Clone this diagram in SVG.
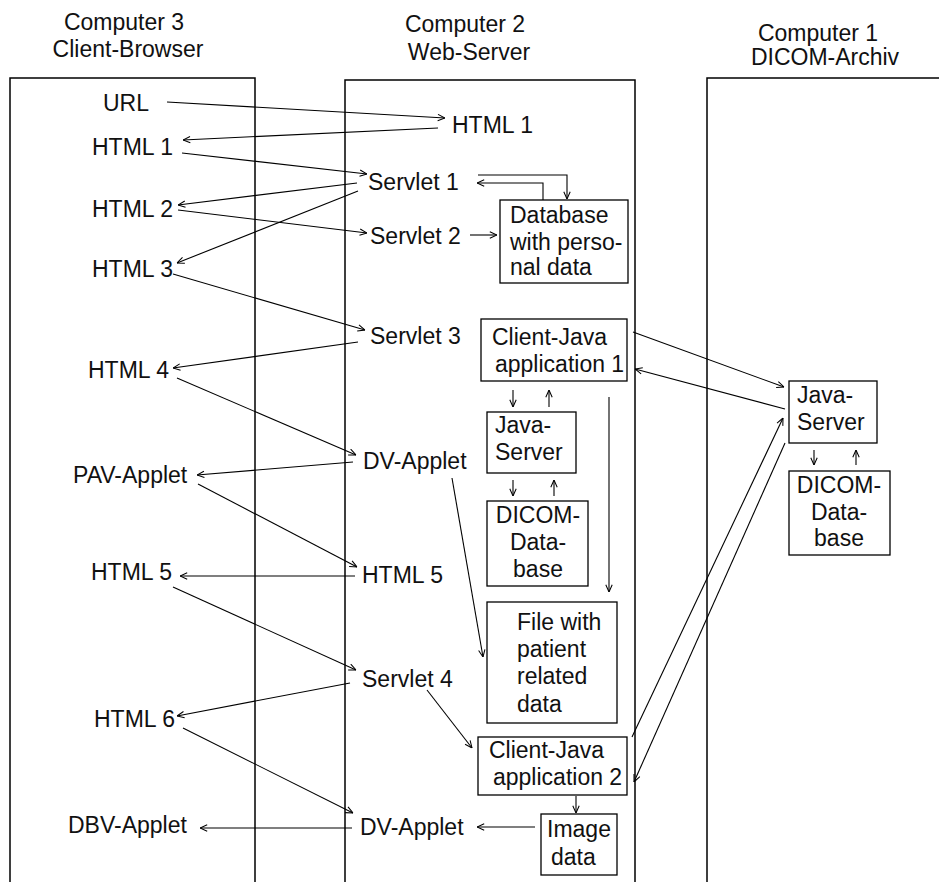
<svg xmlns="http://www.w3.org/2000/svg" width="939" height="882" viewBox="0 0 939 882">
<defs>
<marker id="ah" viewBox="0 0 10 10" refX="10" refY="5" markerWidth="8" markerHeight="8" markerUnits="userSpaceOnUse" orient="auto">
<path d="M1,1 L10,5 L1,9" fill="none" stroke="#000" stroke-width="1.3"/>
</marker>
<style>
text{font-family:"Liberation Sans",Arial,sans-serif;font-size:23px;fill:#111}
.t{text-anchor:middle}
.col{fill:none;stroke:#000;stroke-width:1.5}
.box{fill:#fff;stroke:#000;stroke-width:1.3}
#connectors path{fill:none;stroke:#000;stroke-width:1.1;marker-end:url(#ah)}
</style>
</defs>
<rect width="939" height="882" fill="#fff"/>
<g id="computer3">
<text class="t" x="124" y="30">Computer 3</text>
<text class="t" x="128" y="57">Client-Browser</text>
<path class="col" d="M10,882 V78 H255 V882"/>
</g>
<g id="computer2">
<text class="t" x="465" y="32">Computer 2</text>
<text class="t" x="469" y="60">Web-Server</text>
<path class="col" d="M345,882 V80 H635 V882"/>
</g>
<g id="computer1">
<text class="t" x="818" y="41">Computer 1</text>
<text class="t" x="825" y="65">DICOM-Archiv</text>
<path class="col" d="M707,882 V78 H939"/>
</g>
<g id="url"><text x="103" y="111">URL</text></g>
<g id="html1-client"><text x="92" y="155">HTML 1</text></g>
<g id="html2"><text x="92" y="217">HTML 2</text></g>
<g id="html3"><text x="92" y="277">HTML 3</text></g>
<g id="html4"><text x="88" y="378">HTML 4</text></g>
<g id="pav-applet"><text x="73" y="483">PAV-Applet</text></g>
<g id="html5-client"><text x="91" y="580">HTML 5</text></g>
<g id="html6"><text x="94" y="727">HTML 6</text></g>
<g id="dbv-applet"><text x="68" y="833">DBV-Applet</text></g>
<g id="html1-server"><text x="452" y="133">HTML 1</text></g>
<g id="servlet1"><text x="368" y="190">Servlet 1</text></g>
<g id="servlet2"><text x="370" y="244">Servlet 2</text></g>
<g id="servlet3"><text x="370" y="344">Servlet 3</text></g>
<g id="dv-applet1"><text x="363" y="469">DV-Applet</text></g>
<g id="html5-server"><text x="362" y="583">HTML 5</text></g>
<g id="servlet4"><text x="362" y="687">Servlet 4</text></g>
<g id="dv-applet2"><text x="360" y="835">DV-Applet</text></g>
<g id="database">
<rect class="box" x="500" y="200" width="128" height="83"/>
<text x="510" y="223">Database</text>
<text x="510" y="250">with perso-</text>
<text x="510" y="275">nal data</text>
</g>
<g id="client-java-app1">
<rect class="box" x="481" y="319" width="146" height="62"/>
<text x="492" y="345">Client-Java</text>
<text x="495" y="372">application 1</text>
</g>
<g id="java-server-left">
<rect class="box" x="487" y="412" width="89" height="61"/>
<text x="495" y="433">Java-</text>
<text x="495" y="460">Server</text>
</g>
<g id="dicom-db-left">
<rect class="box" x="487" y="501" width="101" height="85"/>
<text class="t" x="538" y="523">DICOM-</text>
<text class="t" x="538" y="550">Data-</text>
<text class="t" x="538" y="577">base</text>
</g>
<g id="file-patient">
<rect class="box" x="487" y="602" width="130" height="121"/>
<text x="517" y="630">File with</text>
<text x="517" y="657">patient</text>
<text x="517" y="684">related</text>
<text x="517" y="712">data</text>
</g>
<g id="client-java-app2">
<rect class="box" x="478" y="737" width="149" height="58"/>
<text x="489" y="758">Client-Java</text>
<text x="493" y="785">application 2</text>
</g>
<g id="image-data">
<rect class="box" x="541" y="814" width="76" height="61"/>
<text x="547" y="837">Image</text>
<text x="551" y="865">data</text>
</g>
<g id="java-server-right">
<rect class="box" x="789" y="381" width="88" height="62"/>
<text x="797" y="403">Java-</text>
<text x="797" y="430">Server</text>
</g>
<g id="dicom-db-right">
<rect class="box" x="789" y="471" width="101" height="84"/>
<text class="t" x="839" y="493">DICOM-</text>
<text class="t" x="839" y="520">Data-</text>
<text class="t" x="839" y="546">base</text>
</g>
<g id="connectors">
<path d="M167,102 L445,118"/>
<path d="M438,128 L183,140"/>
<path d="M182,153 L367,174"/>
<path d="M357,183 L178,205"/>
<path d="M358,191 L177,263"/>
<path d="M178,210 L367,233"/>
<path d="M470,235 L497,235"/>
<path d="M478,175 H567 V199"/>
<path d="M543,200 V183 H477"/>
<path d="M173,274 L365,330"/>
<path d="M358,342 L173,368"/>
<path d="M177,378 L356,455"/>
<path d="M353,462 L197,475"/>
<path d="M198,484 L357,567"/>
<path d="M355,576 L180,576"/>
<path d="M173,587 L356,670"/>
<path d="M350,683 L177,716"/>
<path d="M183,728 L353,813"/>
<path d="M352,828 L200,828"/>
<path d="M535,827 L477,827"/>
<path d="M576,796 V813"/>
<path d="M427,690 L472,748"/>
<path d="M452,478 L483,657"/>
<path d="M513,390 V407"/>
<path d="M549,407 V390"/>
<path d="M513,480 V496"/>
<path d="M554,496 V480"/>
<path d="M609,397 V592"/>
<path d="M633,332 L784,387"/>
<path d="M785,409 L635,369"/>
<path d="M632,737 L783,418"/>
<path d="M785,443 L634,782"/>
<path d="M814,450 V465"/>
<path d="M856,465 V450"/>
</g>
</svg>
